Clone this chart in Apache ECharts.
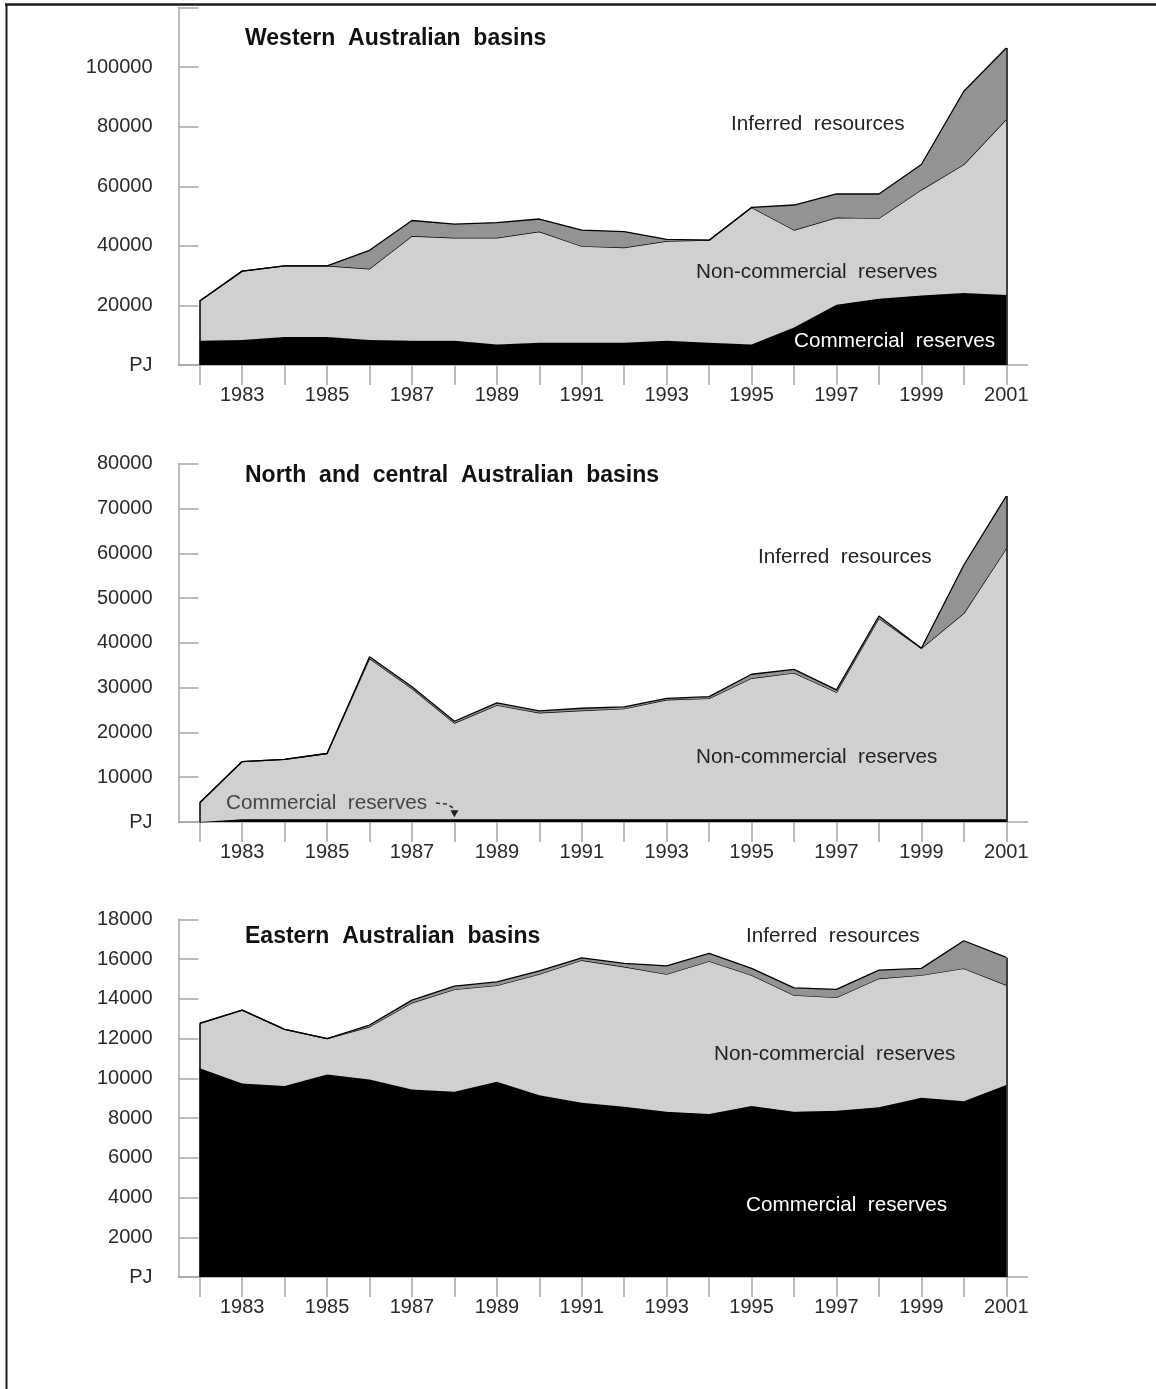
<!DOCTYPE html>
<html>
<head>
<meta charset="utf-8">
<script src="https://cdn.jsdelivr.net/npm/echarts@6/dist/echarts.min.js"></script>
<style>
  html, body { margin: 0; padding: 0; background: #fff; }
  #chart { width: 1156px; height: 1389px; }
</style>
</head>
<body>
<div id="chart"></div>
<script>
// Gas reserves and resources by basin group, petajoules (PJ), 1982–2001
const years = ['1982','1983','1984','1985','1986','1987','1988','1989','1990','1991',
               '1992','1993','1994','1995','1996','1997','1998','1999','2000','2001'];

// Western Australian basins
const westCommercial    = [8100, 8400, 9400, 9400, 8400, 8100, 8100, 6900, 7500, 7500,
                           7500, 8100, 7500, 6900, 12600, 20200, 22200, 23300, 24200, 23500];
const westNonCommercial = [13400, 23100, 23900, 23900, 23900, 35200, 34600, 35800, 37300, 32400,
                           31900, 33500, 34400, 46000, 32700, 29300, 27100, 35500, 43100, 59000];
const westInferred      = [0, 0, 0, 0, 6200, 5200, 4600, 5100, 4200, 5400,
                           5400, 600, 0, 0, 8400, 7900, 8100, 8500, 24600, 23900];

// North and central Australian basins
const northCommercial    = [0, 600, 600, 600, 600, 600, 600, 600, 600, 600,
                            600, 600, 600, 600, 600, 600, 600, 600, 600, 600];
const northNonCommercial = [4300, 12900, 13400, 14700, 35900, 29200, 21500, 25500, 23800, 24300,
                            24700, 26700, 27000, 31500, 32700, 28400, 44900, 38200, 46000, 60500];
const northInferred      = [0, 0, 0, 0, 400, 400, 400, 500, 400, 500,
                            400, 300, 400, 900, 800, 500, 500, 0, 10800, 11700];

// Eastern Australian basins
const eastCommercial    = [10500, 9740, 9610, 10190, 9940, 9440, 9320, 9820, 9150, 8770,
                           8570, 8310, 8200, 8600, 8310, 8360, 8540, 9020, 8850, 9660];
const eastNonCommercial = [2260, 3690, 2850, 1800, 2650, 4360, 5150, 4850, 6090, 7170,
                           7040, 6930, 7690, 6590, 5870, 5710, 6480, 6170, 6680, 5030];
const eastInferred      = [0, 0, 0, 0, 90, 130, 170, 180, 170, 120,
                           170, 420, 390, 340, 370, 400, 420, 340, 1390, 1390];

// Value-axis ranges
const westAxis  = { max: 120000, step: 20000, hideTop: true };
const northAxis = { max: 80000,  step: 10000, hideTop: false };
const eastAxis  = { max: 18000,  step: 2000,  hideTop: false };

const panelTitles = ['Western  Australian  basins', 'North  and  central  Australian  basins', 'Eastern  Australian  basins'];
const seriesNames = ['Commercial  reserves', 'Non-commercial  reserves', 'Inferred  resources'];

const panels = [
  { comm: westCommercial,  non: westNonCommercial,  inf: westInferred,  axis: westAxis },
  { comm: northCommercial, non: northNonCommercial, inf: northInferred, axis: northAxis },
  { comm: eastCommercial,  non: eastNonCommercial,  inf: eastInferred,  axis: eastAxis }
];

const FONT = '"Liberation Sans", Arial, sans-serif';
const AXIS_GREY = '#a6a6a6';
const fills = ['#000000', '#d0d0d0', '#939393'];

const gridBoxes = [
  { top: 7.5,   height: 357.5 },
  { top: 463.8, height: 358.2 },
  { top: 919.3, height: 357.7 }
];

const grids = [], xAxes = [], yAxes = [], series = [];

panels.forEach((p, i) => {
  grids.push({ left: 178.5, width: 849, top: gridBoxes[i].top, height: gridBoxes[i].height });

  xAxes.push({
    type: 'category', gridIndex: i, data: years, boundaryGap: true,
    axisLine: { lineStyle: { color: AXIS_GREY, width: 1.5 } },
    axisTick: { show: true, interval: 0, alignWithLabel: true, length: 20,
                lineStyle: { color: AXIS_GREY, width: 1.5 } },
    axisLabel: { interval: (idx) => idx % 2 === 1, margin: 20,
                 fontFamily: FONT, fontSize: 20, color: '#2a2a2a' },
    splitLine: { show: false }
  });

  const ax = p.axis;
  yAxes.push({
    type: 'value', gridIndex: i, min: 0, max: ax.max, interval: ax.step,
    axisLine: { show: true, lineStyle: { color: AXIS_GREY, width: 1.5 } },
    axisTick: { show: true, inside: true, length: 20, lineStyle: { color: AXIS_GREY, width: 1.5 } },
    axisLabel: {
      margin: 26, fontFamily: FONT, fontSize: 20, color: '#2a2a2a',
      formatter: (v) => v === 0 ? 'PJ' : (ax.hideTop && v === ax.max ? '' : String(v))
    },
    splitLine: { show: false }
  });

  const layers = [p.comm, p.non, p.inf];
  const totals = years.map((_, k) => p.comm[k] + p.non[k] + p.inf[k]);
  const last = years.length - 1;

  layers.forEach((vals, j) => {
    const s = {
      name: seriesNames[j],
      type: 'line', xAxisIndex: i, yAxisIndex: i, stack: 'panel' + i,
      data: vals, symbol: 'none', silent: true,
      lineStyle: { color: '#000', width: 1.3 },
      areaStyle: { color: fills[j], opacity: 1 },
      z: 2 + j
    };
    if (j === 2) {
      // closing edges of the stacked outline at the first and last year
      s.markLine = {
        silent: true, symbol: 'none', label: { show: false },
        lineStyle: { color: '#000', width: 1.5, type: 'solid' },
        data: [
          [{ coord: [years[0], 0] },    { coord: [years[0], totals[0]] }],
          [{ coord: [years[last], 0] }, { coord: [years[last], totals[last]] }]
        ]
      };
    }
    series.push(s);
  });
});

function label(text, x, y, opts) {
  return {
    type: 'text', x: x, y: y, silent: true, z: 100,
    style: Object.assign({
      text: text, fontFamily: FONT, fontSize: 20.7, fill: '#222',
      verticalAlign: 'middle'
    }, opts || {})
  };
}

const chart = echarts.init(document.getElementById('chart'), null, { renderer: 'canvas' });

const titleStyle = { fontWeight: 'bold', fontSize: 23, fill: '#111' };

const graphics = [
  // frame
  { type: 'line', silent: true, shape: { x1: 5, y1: 4.5, x2: 1156, y2: 4.5 }, style: { stroke: '#1a1a1a', lineWidth: 2.5 } },
  { type: 'line', silent: true, shape: { x1: 6.5, y1: 4, x2: 6.5, y2: 1389 }, style: { stroke: '#1a1a1a', lineWidth: 2 } },

  // panel titles
  label(panelTitles[0], 245, 39, titleStyle),
  label(panelTitles[1], 245, 476, titleStyle),
  label(panelTitles[2], 245, 937, titleStyle),

  // layer names, Western
  label(seriesNames[2], 731, 124),
  label(seriesNames[1], 696, 272),
  label(seriesNames[0], 794, 341, { fill: '#fff' }),

  // layer names, North and central
  label(seriesNames[2], 758, 557),
  label(seriesNames[1], 696, 757),
  label(seriesNames[0], 226, 803, { fill: '#444' }),

  // layer names, Eastern
  label(seriesNames[2], 746, 936),
  label(seriesNames[1], 714, 1054),
  label(seriesNames[0], 746, 1205, { fill: '#fff' })
];

chart.setOption({
  animation: false,
  backgroundColor: '#fff',
  grid: grids, xAxis: xAxes, yAxis: yAxes, series: series,
  graphic: graphics
});

// pointer from the "Commercial reserves" note to the thin commercial layer (North and central)
const tip = chart.convertToPixel({ xAxisIndex: 1, yAxisIndex: 1 }, ['1988', northCommercial[6]]);
const sx = 436, sy = 803;
graphics.push(
  { type: 'polyline', silent: true, z: 101,
    shape: { points: [[sx, sy], [tip[0] - 8, sy + 1], [tip[0] - 1, sy + 5], [tip[0], tip[1] - 8]] },
    style: { stroke: '#333', lineWidth: 1.5, lineDash: [4, 3], fill: null } },
  { type: 'polygon', silent: true, z: 101,
    shape: { points: [[tip[0] - 4, tip[1] - 9], [tip[0] + 4, tip[1] - 9], [tip[0], tip[1] - 2]] },
    style: { fill: '#222' } }
);
chart.setOption({ graphic: graphics });
</script>
</body>
</html>
